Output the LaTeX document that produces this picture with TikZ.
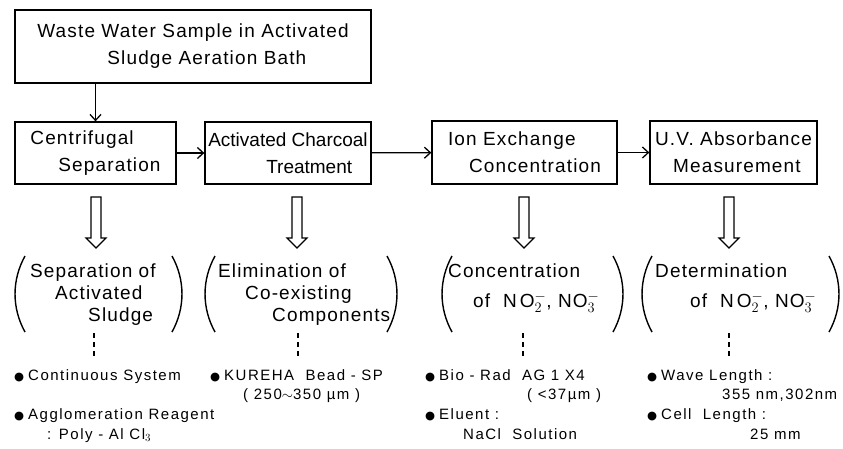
\documentclass[tikz,border=0pt]{standalone}
\usepackage{fontspec}
\setmainfont{Liberation Sans}[LetterSpace=6]
\newfontfamily\dejavu{DejaVu Sans}
\usetikzlibrary{arrows.meta}
\newcommand\bul{{\dejavu\fontsize{11.5}{10}\selectfont ●}\hspace{4pt}}
\tikzset{box/.style={draw,line width=1.3pt,inner sep=0pt,align=left,font=\fontsize{19}{27}\selectfont},
arr/.style={line width=1.3pt,-{Straight Barb[length=6pt,width=11pt]}},
grp/.style={inner sep=0pt,align=left,font=\fontsize{19}{22}\selectfont},
lst/.style={inner sep=0pt,align=left,anchor=north west,font=\fontsize{15}{19.7}\selectfont\addfontfeature{LetterSpace=10}},
paren/.style={line width=1.4pt},
dots/.style={line width=2.6pt,dash pattern=on 5pt off 4pt},
hollow/.pic={\draw[line width=1.1pt] (-5,0)--(-5,41)--(-10,41)--(0,51)--(10,41)--(5,41)--(5,0)--cycle;}}
\begin{document}
\begin{tikzpicture}[x=1pt,y=-1pt]
\useasboundingbox (0,0) rectangle (843,448);
% process boxes
\node[box,minimum width=356,minimum height=73] (top) at (193,46.5) {Waste Water Sample in Activated\\\hspace*{70pt}Sludge Aeration Bath};
\node[box,minimum width=161,minimum height=62] (cent) at (95.5,153) {Centrifugal\\\hspace*{28pt}Separation};
\node[box,minimum width=166,minimum height=62,font=\fontsize{19}{27}\selectfont\addfontfeature{LetterSpace=0}] (char) at (288,153) {Activated Charcoal\\\hspace*{58pt}Treatment};
\node[box,minimum width=185,minimum height=63] (ion) at (524.5,152.5) {Ion Exchange\\\hspace*{21pt}Concentration};
\node[box,minimum width=167,minimum height=63] (uv) at (733.5,152.5) {U.V. Absorbance\\\hspace*{18pt}Measurement};
\draw[arr] (cent.north |- top.south)--(cent.north);
\draw[arr] (cent)--(char);\draw[arr] (char)--(ion);\draw[arr] (ion)--(uv);
\foreach \x in {96,297,524,729} \pic at (\x,197) {hollow};
% purposes
\foreach \a/\b in {15/182,205/397,442/623,642/839}{
\draw[paren] (\a+10,256) .. controls (\a-3.3,280) and (\a-3.3,308) .. (\a+10,332);
\draw[paren] (\b-10,256) .. controls (\b+3.3,280) and (\b+3.3,308) .. (\b-10,332);}
\node[grp,anchor=west] (sep) at (30,295) {Separation of\\\hspace*{25pt}Activated\\\hspace*{58pt}Sludge};
\node[grp,anchor=west] (elim) at (218,295) {Elimination of\\\hspace*{27pt}Co-existing\\\hspace*{54pt}Components};
\node[grp,anchor=west,font=\fontsize{19}{30}\selectfont] (conc) at (448,288) {Concentration\\\hspace*{25pt}of\ \ N\,O$_2^-$, NO$_3^-$};
\node[grp,anchor=west,font=\fontsize{19}{30}\selectfont] (det) at (655,288) {Determination\\\hspace*{35pt}of\ \ N\,O$_2^-$, NO$_3^-$};
\foreach \x in {94,298,523,729} \draw[dots] (\x,333)--(\x,358);
% conditions
\node[lst] (l1) at (14,369) {\bul Continuous System\\\mbox{}\\\bul Agglomeration Reagent\\\hspace*{33pt}: Poly - Al Cl$_3$};
\node[lst] (l2) at (210,369) {\bul KUREHA\ \ Bead - SP\\\hspace*{33pt}( 250$\sim$350 µm )};
\node[lst] (l3) at (425,369) {\bul Bio - Rad\ \ AG 1 X4\\\hspace*{102pt}( <37µm )\\\bul Eluent :\\\hspace*{38pt}NaCl\ \ Solution};
\node[lst] (l4) at (647,369) {\bul Wave Length :\\\hspace*{75pt}355 nm,302nm\\\bul Cell\ \ Length :\\\hspace*{103pt}25 mm};
\end{tikzpicture}
\end{document}
